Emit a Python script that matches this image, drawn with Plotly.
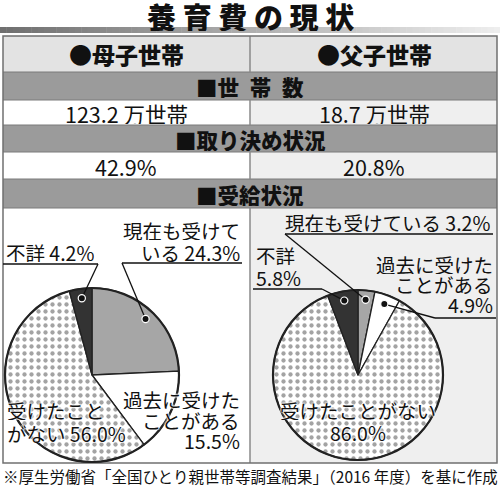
import math
import plotly.graph_objects as go

# ---------------- data ----------------
columns = ["●母子世帯", "●父子世帯"]
households = ["123.2 万世帯", "18.7 万世帯"]
agreement = ["42.9%", "20.8%"]
sections = ["■世\u2002帯\u2002数", "■取り決め状況", "■受給状況"]

categories = ["現在も受けている", "過去に受けたことがある", "受けたことがない", "不詳"]
mother_values = [24.3, 15.5, 56.0, 4.2]
father_values = [3.2, 4.9, 86.0, 5.8]

title = "養 育 費 の 現 状"
footer = "※厚生労働省「全国ひとり親世帯等調査結果」（2016 年度）を基に作成"

# ---------------- helpers ----------------
W, H = 500, 488
FONT = "Noto Sans CJK JP"


def X(p):
    return p / W


def Y(p):
    return 1 - p / H


fig = go.Figure()
shapes = []
annotations = []


def rect(x0, y0, x1, y1, fill, layer="below", line=None):
    shapes.append(dict(type="rect", xref="paper", yref="paper",
                       x0=X(x0), x1=X(x1), y0=Y(y1), y1=Y(y0),
                       fillcolor=fill, line=line or dict(width=0), layer=layer))


def seg(x0, y0, x1, y1, color="#111", width=1.3, layer="above"):
    shapes.append(dict(type="line", xref="paper", yref="paper",
                       x0=X(x0), y0=Y(y0), x1=X(x1), y1=Y(y1),
                       line=dict(color=color, width=width), layer=layer))


def text(t, x, y, size, weight=400, xanchor="center", color="#111", halo=False, h=None):
    f = dict(family=FONT, size=size, color=color, weight=weight)
    if halo:
        f["shadow"] = "0 0 2px #fff, 0 0 2px #fff, 0 0 2px #fff, 0 0 3px #fff"
    a = dict(text=t, x=X(x), y=Y(y), xref="paper", yref="paper",
             xanchor=xanchor, yanchor="middle", showarrow=False, font=f,
             borderpad=0,
             align={"left": "left", "right": "right"}.get(xanchor, "center"))
    if h:
        a["height"] = h
    annotations.append(a)


def lines(ts, x, ys, size, xanchor="center", halo=False):
    for t, yy in zip(ts, ys):
        text(t, x, yy, size, xanchor=xanchor, halo=halo, h=19)


# ---------------- title & gradient bar ----------------
text(title, 250, 16, 29, weight=900, color="#111", h=30)
nseg = 80
for i in range(nseg):
    t = i / (nseg - 1)
    c = int(0x70 + t * (0xee - 0x70))
    rect(i * W / nseg, 27, (i + 1) * W / nseg + 0.5, 33, f"rgb({c},{c},{c})")

# ---------------- table ----------------
L, R, M = 3, 497, 250
TOP, BOT = 36, 463
rows = [36, 72, 100, 125, 152, 179, 208, 463]
LIGHT = "#e3e3e3"
GRAY = "#9b9b9b"
RCOL = "#efefef"

rect(L, rows[0], R, rows[1], LIGHT)
rect(L, rows[1], R, rows[2], GRAY)
rect(L, rows[2], M, rows[3], "#ffffff")
rect(M, rows[2], R, rows[3], RCOL)
rect(L, rows[3], R, rows[4], GRAY)
rect(L, rows[4], M, rows[5], "#ffffff")
rect(M, rows[4], R, rows[5], RCOL)
rect(L, rows[5], R, rows[6], GRAY)
rect(L, rows[6], M, rows[7], "#ffffff")
rect(M, rows[6], R, rows[7], RCOL)

for yy in rows[1:-1]:
    seg(L, yy, R, yy, color="#7a7a7a", width=1, layer="below")
for (a, b) in [(0, 1), (2, 3), (4, 5), (6, 7)]:
    seg(M, rows[a], M, rows[b], color="#8a8a8a", width=1.5, layer="below")
rect(L, TOP, R, BOT, "rgba(0,0,0,0)", layer="below", line=dict(color="#707070", width=1.5))

# header texts
text(columns[0], 126, 54, 23, weight=900, h=28)
text(columns[1], 374, 54, 23, weight=900, h=28)
text(sections[0], 250, 86, 21.5, weight=900, h=24)
text(households[0], 126, 112.5, 21.5, h=22)
text(households[1], 374, 112.5, 21.5, h=22)
text(sections[1], 250, 138.5, 21.5, weight=900, h=24)
text(agreement[0], 126, 165.5, 21.5, h=22)
text(agreement[1], 374, 165.5, 21.5, h=22)
text(sections[2], 250, 193.5, 21.5, weight=900, h=24)

# ---------------- pies ----------------
slice_colors = ["#a6a6a6", "#ffffff", "#e6e6e6", "#333333"]
pattern_shapes = ["", "", ".", ""]

pies = [
    dict(values=mother_values, cx=92, cy=375, r=87),
    dict(values=father_values, cx=358, cy=375, r=85),
]

for p in pies:
    cx, cy, r = p["cx"], p["cy"], p["r"]
    fig.add_trace(go.Pie(
        values=p["values"], labels=categories, sort=False, direction="clockwise",
        rotation=0, textinfo="none", hoverinfo="label+percent", showlegend=False,
        domain=dict(x=[X(cx - r), X(cx + r)], y=[Y(cy + r), Y(cy - r)]),
        marker=dict(colors=slice_colors, line=dict(color="#222", width=1.3),
                    pattern=dict(shape=pattern_shapes, fgcolor="#a3a3a3",
                                 size=7, solidity=0.3)),
    ))
    shapes.append(dict(type="circle", xref="paper", yref="paper",
                       x0=X(cx - r), x1=X(cx + r), y0=Y(cy + r), y1=Y(cy - r),
                       line=dict(color="#222", width=2.2), layer="above"))


def dot_pos(p, idx, frac=0.89):
    vals = p["values"]
    tot = sum(vals)
    cum = sum(vals[:idx]) + vals[idx] / 2
    th = 2 * math.pi * cum / tot
    return p["cx"] + frac * p["r"] * math.sin(th), p["cy"] - frac * p["r"] * math.cos(th)


def pct(v):
    return f"{v:.1f}%"


# leader lines + dots
leaders = [
    # (pie, slice index, underline x0, x1, y, leader start x)
    (0, 3, 3, 98, 264, 98),
    (0, 0, 122, 242, 263, 122),
    (1, 0, 285, 493, 234, 285),
    (1, 3, 253, 322, 289, 322),
    (1, 1, 435, 496, 318, 435),
]
dots = []
for pi, si, ux0, ux1, uy, lx in leaders:
    dx, dy = dot_pos(pies[pi], si)
    seg(ux0, uy, ux1, uy, width=1.3)
    seg(lx, uy, dx, dy, width=1.3)
    dots.append((dx, dy))
for dx, dy in dots:
    rr = 3.6
    shapes.append(dict(type="circle", xref="paper", yref="paper",
                       x0=X(dx - rr), x1=X(dx + rr), y0=Y(dy + rr), y1=Y(dy - rr),
                       fillcolor="#111", line=dict(color="#fff", width=1.2), layer="above"))

mv, fv = mother_values, father_values
LS = 19.5
# left pie labels
lines([f"不詳 {pct(mv[3])}"], 5, [252], LS, xanchor="left")
lines(["現在も受けて", f"いる {pct(mv[0])}"], 241, [230.5, 252.5], LS, xanchor="right")
lines(["過去に受けた", "ことがある", pct(mv[1])], 241, [399.5, 420, 440], LS,
      xanchor="right", halo=True)
lines(["受けたこと", f"がない {pct(mv[2])}"], 6, [410.5, 433.5], LS, xanchor="left", halo=True)
# right pie labels
lines([f"現在も受けている {pct(fv[0])}"], 491, [222], LS, xanchor="right")
lines(["不詳", pct(fv[3])], 255, [255.5, 277.5], LS, xanchor="left")
lines(["過去に受けた", "ことがある", pct(fv[1])], 494, [264.5, 284.5, 304.5], LS, xanchor="right")
lines(["受けたことがない", pct(fv[2])], 358, [410.5, 432.5], LS, halo=True)

# footer
text(footer, 250, 476, 15.5, h=20)

fig.update_layout(
    width=W, height=H, autosize=False,
    margin=dict(l=0, r=0, t=0, b=0, pad=0),
    paper_bgcolor="#ffffff", plot_bgcolor="#ffffff",
    shapes=shapes, annotations=annotations,
    font=dict(family=FONT),
)

fig.write_html("out.html")
